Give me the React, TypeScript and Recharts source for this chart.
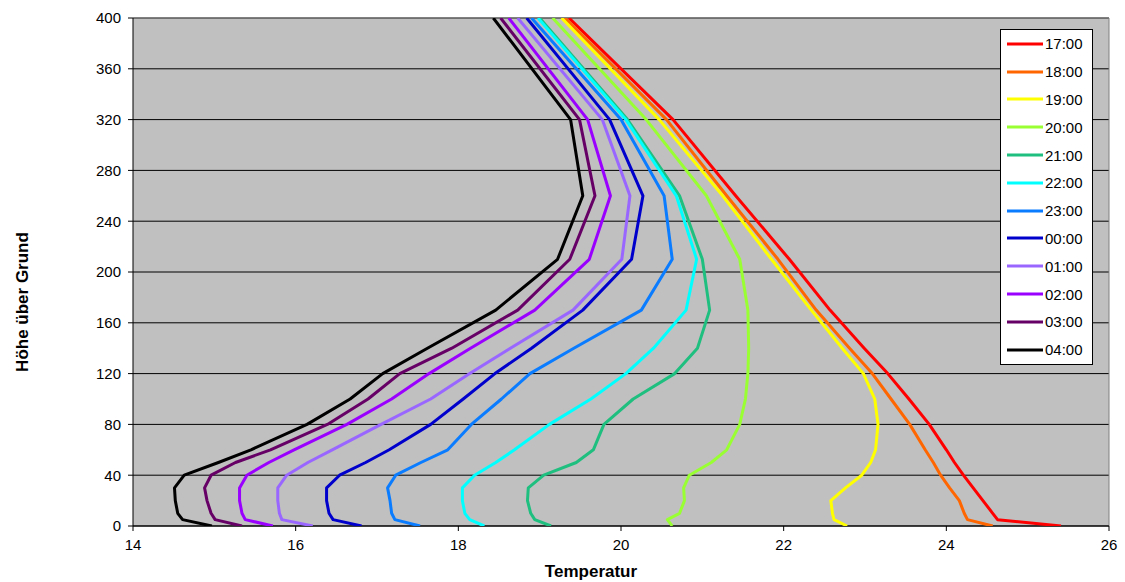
import React from "react";
import {
  ScatterChart,
  Scatter,
  XAxis,
  YAxis,
  CartesianGrid,
  Legend,
  ReferenceLine,
  Label,
} from "recharts";

// Höhe über Grund (m)
const heights = [0, 5, 10, 20, 30, 40, 50, 60, 80, 100, 120, 140, 170, 210, 260, 320, 400];

const hours = ["17:00", "18:00", "19:00", "20:00", "21:00", "22:00", "23:00", "00:00", "01:00", "02:00", "03:00", "04:00"];
const colors = ["#ff0000", "#ff6600", "#ffff00", "#99ff33", "#1fbf80", "#00ffff", "#0a7cff", "#0000cc", "#9966ff", "#9900ff", "#660066", "#000000"];

// Temperatur je Höhe
const t1700 = [25.41, 24.63, 24.57, 24.45, 24.33, 24.21, 24.1, 24.0, 23.79, 23.54, 23.28, 22.99, 22.57, 22.07, 21.41, 20.64, 19.36];
const t1800 = [24.57, 24.26, 24.22, 24.16, 24.04, 23.93, 23.84, 23.74, 23.55, 23.32, 23.09, 22.81, 22.4, 21.93, 21.3, 20.56, 19.31];
const t1900 = [22.78, 22.62, 22.6, 22.58, 22.76, 22.96, 23.07, 23.13, 23.16, 23.12, 22.98, 22.72, 22.34, 21.85, 21.25, 20.47, 19.27];
const t2000 = [20.63, 20.57, 20.72, 20.78, 20.77, 20.84, 21.11, 21.3, 21.46, 21.53, 21.56, 21.57, 21.56, 21.46, 21.05, 20.31, 19.16];
const t2100 = [19.14, 18.94, 18.89, 18.85, 18.86, 19.05, 19.45, 19.66, 19.79, 20.15, 20.66, 20.94, 21.09, 21.0, 20.72, 20.08, 19.0];
const t2200 = [18.32, 18.14, 18.08, 18.05, 18.05, 18.2, 18.46, 18.69, 19.12, 19.63, 20.06, 20.4, 20.8, 20.93, 20.68, 20.06, 18.98];
const t2300 = [17.53, 17.22, 17.18, 17.16, 17.13, 17.23, 17.54, 17.87, 18.16, 18.53, 18.88, 19.42, 20.25, 20.63, 20.53, 20.0, 18.9];
const t0000 = [16.81, 16.46, 16.41, 16.38, 16.38, 16.54, 16.86, 17.15, 17.66, 18.06, 18.45, 18.9, 19.53, 20.13, 20.27, 19.86, 18.84];
const t0100 = [16.21, 15.83, 15.8, 15.78, 15.78, 15.89, 16.15, 16.45, 17.05, 17.66, 18.14, 18.64, 19.41, 20.01, 20.11, 19.77, 18.73];
const t0200 = [15.72, 15.38, 15.34, 15.31, 15.31, 15.4, 15.67, 15.98, 16.63, 17.18, 17.64, 18.15, 18.94, 19.61, 19.87, 19.59, 18.62];
const t0300 = [15.34, 15.01, 14.96, 14.91, 14.88, 14.96, 15.26, 15.69, 16.39, 16.89, 17.28, 17.92, 18.73, 19.37, 19.68, 19.49, 18.52];
const t0400 = [14.97, 14.61, 14.55, 14.52, 14.51, 14.63, 15.05, 15.45, 16.14, 16.67, 17.07, 17.62, 18.46, 19.22, 19.53, 19.38, 18.43];

const temps = [t1700, t1800, t1900, t2000, t2100, t2200, t2300, t0000, t0100, t0200, t0300, t0400];

const xTicks = [14, 16, 18, 20, 22, 24, 26];
const yTicks = [0, 40, 80, 120, 160, 200, 240, 280, 320, 360, 400];

const font = "Arial, 'Liberation Sans', sans-serif";

const series = hours.map((name, i) => ({
  name,
  color: colors[i],
  data: heights.map((h, j) => ({ t: temps[i][j], h })),
}));

const NoDot = () => <g />;

const XTitle = ({ viewBox }: any) => (
  <text
    x={viewBox.x + viewBox.width / 2 - 30}
    y={viewBox.y + viewBox.height - 5}
    textAnchor="middle"
    fontFamily={font}
    fontWeight="bold"
    fontSize={17}
    fill="#000"
  >
    Temperatur
  </text>
);

const YTitle = ({ viewBox }: any) => {
  const cx = 22;
  const cy = viewBox.y + viewBox.height / 2 + 30;
  return (
    <text
      x={cx}
      y={cy}
      transform={`rotate(-90 ${cx} ${cy})`}
      textAnchor="middle"
      dominantBaseline="central"
      fontFamily={font}
      fontWeight="bold"
      fontSize={17}
      fill="#000"
    >
      Höhe über Grund
    </text>
  );
};

const LegendBox = ({ payload }: any) => {
  // keep the series order of the chart, not alphabetical
  const items = [...(payload || [])].sort(
    (a: any, b: any) => hours.indexOf(a.value) - hours.indexOf(b.value)
  );
  return (
    <div
      style={{
        border: "1px solid #000",
        background: "#fff",
        width: 91,
        fontFamily: font,
        fontSize: 15,
        color: "#000",
      }}
    >
      {items.map((p: any) => (
        <div key={p.value} style={{ display: "flex", alignItems: "center", height: 27.8 }}>
          <svg width={36} height={4} style={{ marginLeft: 6 }}>
            <line x1={0} y1={2} x2={36} y2={2} stroke={p.color} strokeWidth={3} />
          </svg>
          <span style={{ marginLeft: 2 }}>{p.value}</span>
        </div>
      ))}
    </div>
  );
};

export default function App() {
  return (
    <div style={{ position: "absolute", left: 0, top: 0, background: "#fff" }}>
      <ScatterChart width={1125} height={582} margin={{ top: 18, right: 16, bottom: 0, left: 0 }}>
        <CartesianGrid vertical={false} stroke="#000" fill="#c0c0c0" fillOpacity={1} />
        <XAxis
          type="number"
          dataKey="t"
          domain={[14, 26]}
          ticks={xTicks}
          height={56}
          tickSize={5}
          tickMargin={8}
          allowDataOverflow
          stroke="#000"
          tick={{ fontSize: 15, fill: "#000", fontFamily: font }}
        >
          <Label content={XTitle} />
        </XAxis>
        <YAxis
          type="number"
          dataKey="h"
          domain={[0, 400]}
          ticks={yTicks}
          width={133}
          tickSize={5}
          tickMargin={7}
          allowDataOverflow
          stroke="#000"
          tick={{ fontSize: 15, fill: "#000", fontFamily: font }}
        >
          <Label content={YTitle} />
        </YAxis>
        <ReferenceLine x={26} stroke="#808080" />
        <ReferenceLine y={400} stroke="#808080" />
        {series.map((s) => (
          <Scatter
            key={s.name}
            name={s.name}
            data={s.data}
            fill={s.color}
            line={{ strokeWidth: 3, strokeLinejoin: "round" }}
            shape={NoDot}
            legendType="line"
            isAnimationActive={false}
          />
        ))}
        <Legend
          layout="vertical"
          align="center"
          verticalAlign="middle"
          wrapperStyle={{ left: 1000, top: 29, width: 93 }}
          content={LegendBox}
        />
      </ScatterChart>
    </div>
  );
}
